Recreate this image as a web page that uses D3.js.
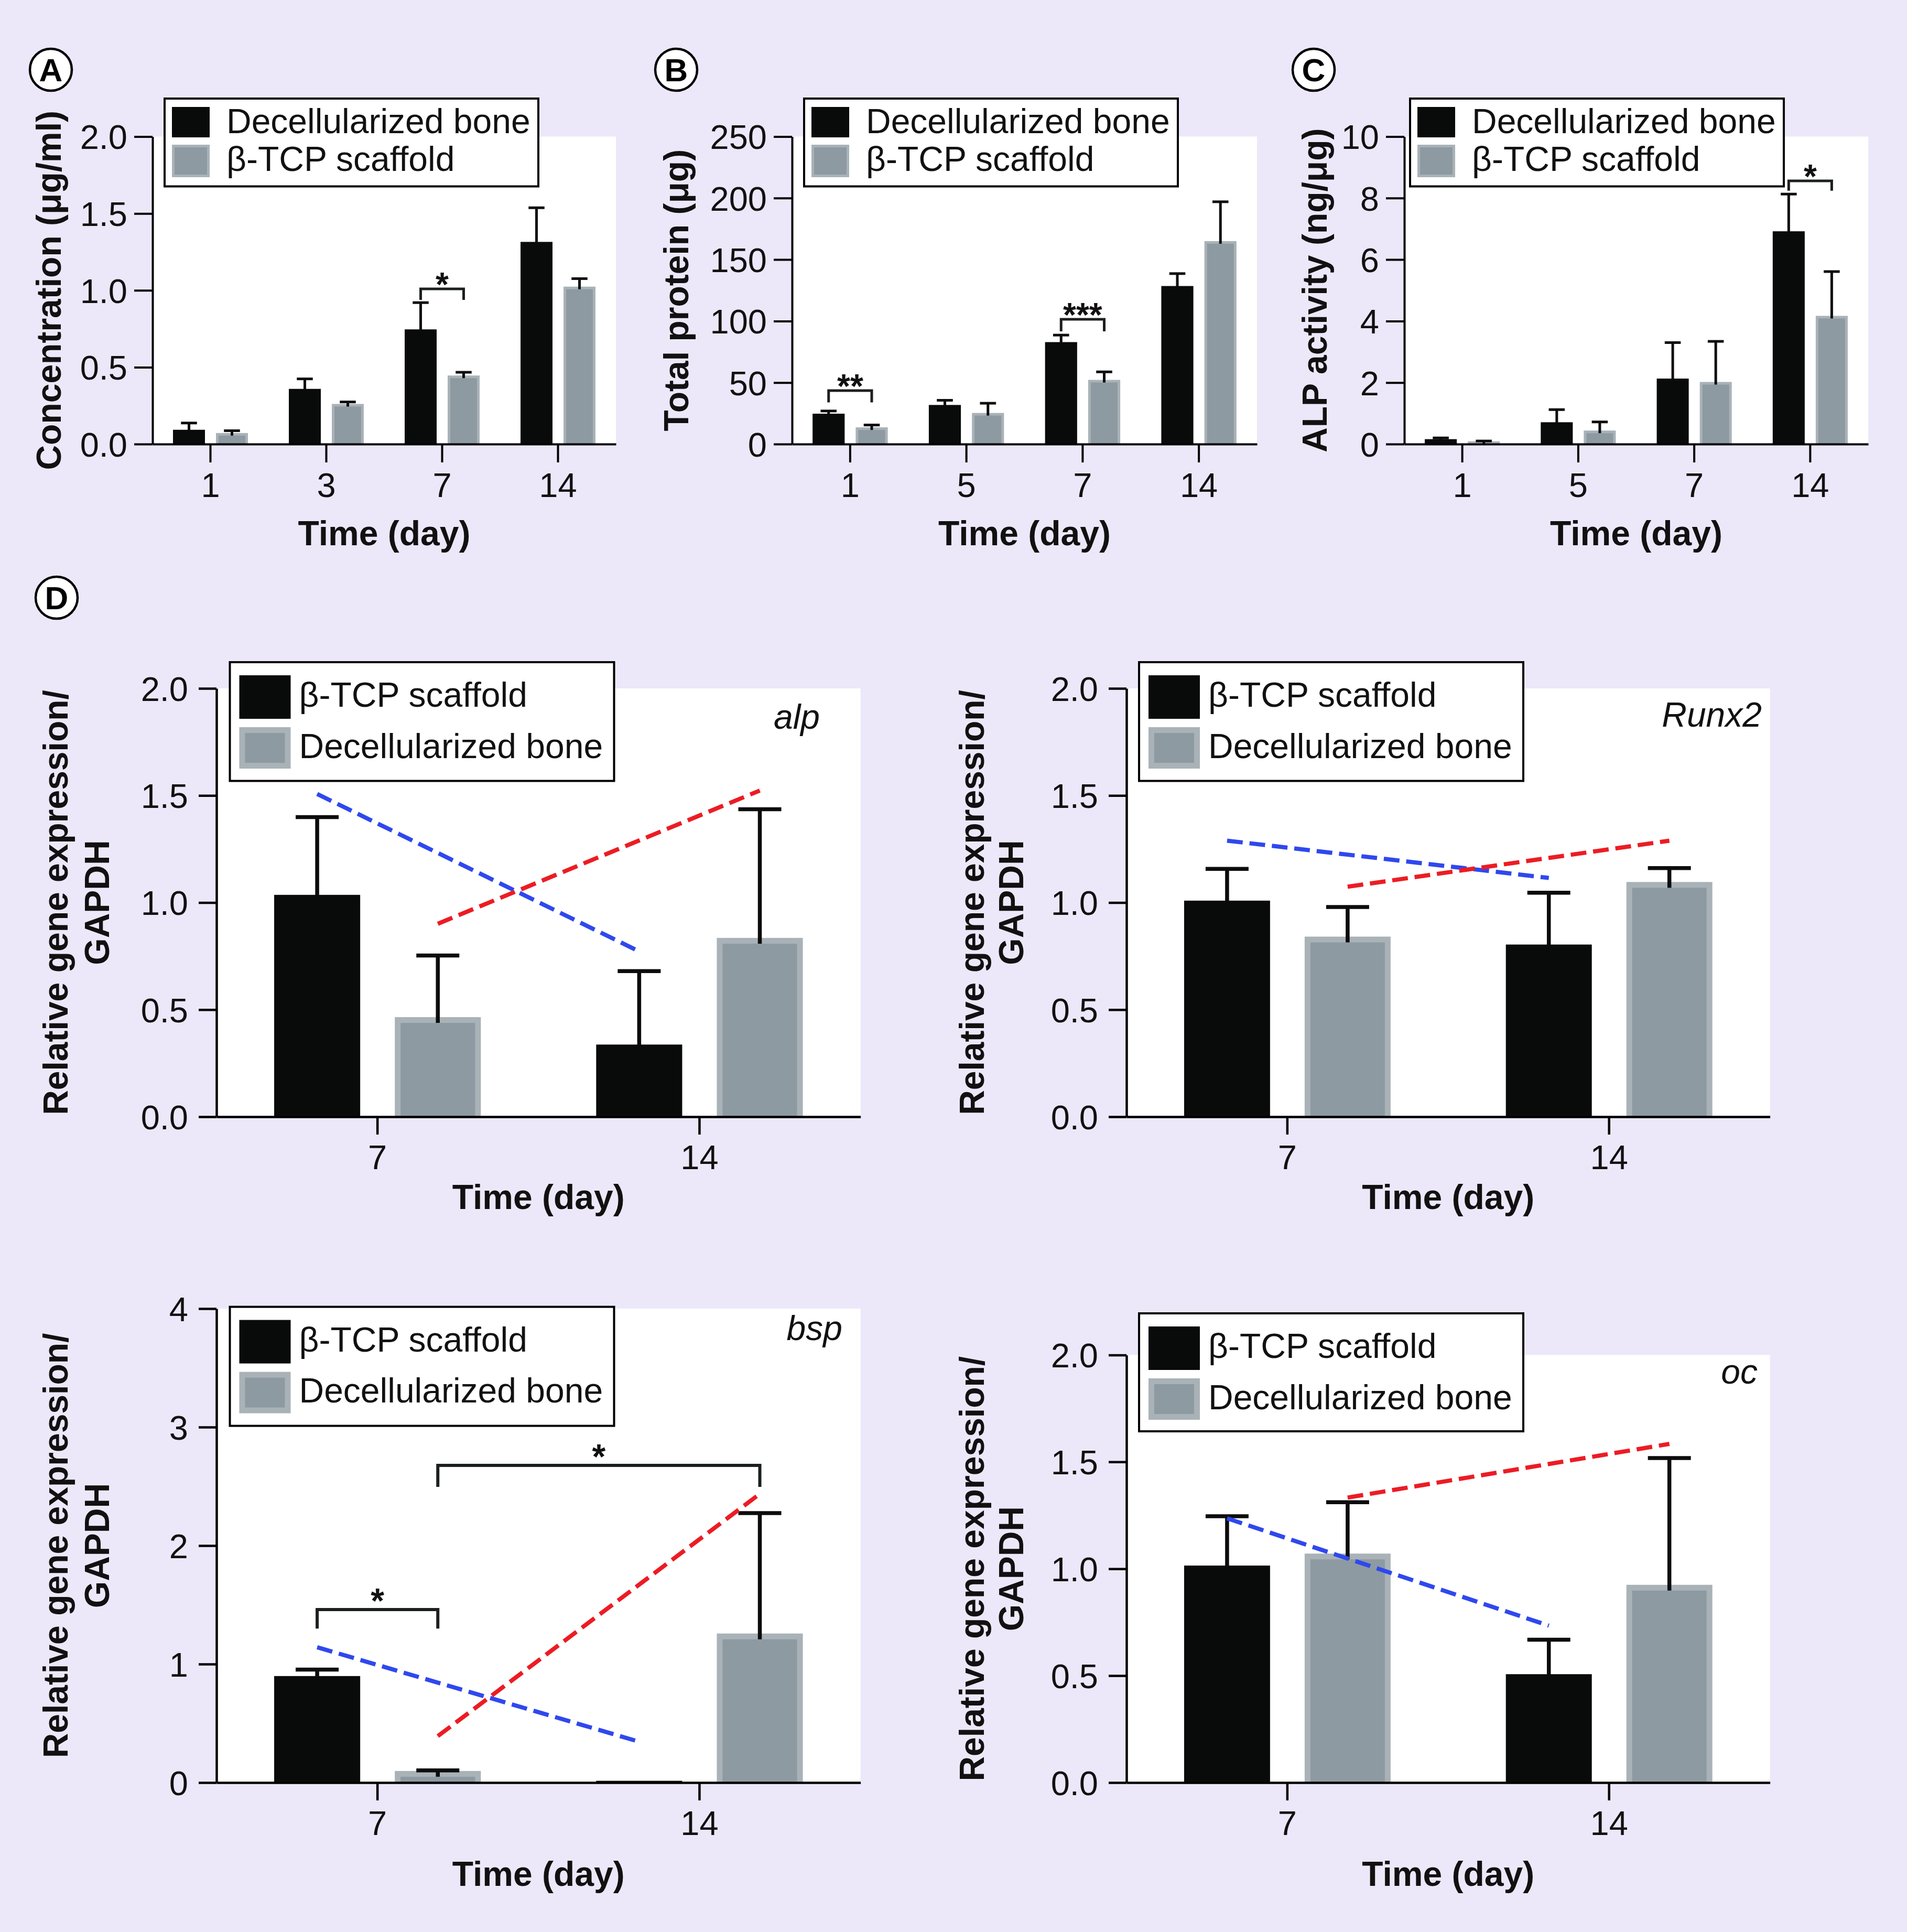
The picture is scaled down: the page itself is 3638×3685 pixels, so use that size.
<!DOCTYPE html>
<html>
<head>
<meta charset="utf-8">
<script src="https://cdn.jsdelivr.net/npm/d3@7"></script>
<style>
  html, body { margin: 0; padding: 0; background: #ECE8F9; }
  svg { display: block; }
</style>
</head>
<body>
<svg id="fig" width="3638" height="3685"></svg>
<script>
// ---------------- DATA ----------------
const daysA = ["1", "3", "7", "14"];
const daysBC = ["1", "5", "7", "14"];
const daysD = ["7", "14"];
const legendTop = ["Decellularized bone", "β-TCP scaffold"];
const legendD = ["β-TCP scaffold", "Decellularized bone"];

// (A) Concentration (µg/ml)
const concDecell = [0.093, 0.359, 0.746, 1.315];
const concDecellErr = [0.044, 0.065, 0.174, 0.222];
const concTCP = [0.072, 0.261, 0.446, 1.024];
const concTCPErr = [0.015, 0.013, 0.021, 0.052];
const ticksConc = [0, 0.5, 1.0, 1.5, 2.0];

// (B) Total protein (µg)
const protDecell = [24.7, 31.8, 82.9, 128.5];
const protDecellErr = [2.2, 3.8, 5.7, 10.1];
const protTCP = [13.6, 25.3, 52.2, 165.0];
const protTCPErr = [1.9, 7.9, 6.5, 32.0];
const ticksProt = [0, 50, 100, 150, 200, 250];

// (C) ALP activity (ng/µg)
const alpActDecell = [0.16, 0.71, 2.13, 6.92];
const alpActDecellErr = [0.04, 0.41, 1.17, 1.21];
const alpActTCP = [0.09, 0.44, 2.02, 4.17];
const alpActTCPErr = [0.01, 0.28, 1.32, 1.44];
const ticksAlpAct = [0, 2, 4, 6, 8, 10];

// (D) Relative gene expression / GAPDH  (series 0 = β-TCP scaffold, series 1 = decellularized bone)
const alpTCP = [1.036, 0.337];
const alpTCPErr = [0.363, 0.343];
const alpDecell = [0.465, 0.835];
const alpDecellErr = [0.288, 0.601];
const alpTrendTCP = [1.507, 0.772];
const alpTrendDecell = [0.901, 1.523];

const runxTCP = [1.009, 0.804];
const runxTCPErr = [0.148, 0.242];
const runxDecell = [0.841, 1.096];
const runxDecellErr = [0.138, 0.065];
const runxTrendTCP = [1.289, 1.115];
const runxTrendDecell = [1.074, 1.289];

const bspTCP = [0.899, 0.015];
const bspTCPErr = [0.055, 0];
const bspDecell = [0.098, 1.258];
const bspDecellErr = [0.005, 1.016];
const bspTrendTCP = [1.142, 0.345];
const bspTrendDecell = [0.392, 2.437];

const ocTCP = [1.015, 0.507];
const ocTCPErr = [0.231, 0.161];
const ocDecell = [1.071, 0.925];
const ocDecellErr = [0.240, 0.593];
const ocTrendTCP = [1.236, 0.734];
const ocTrendDecell = [1.333, 1.584];

const ticksGene = [0, 0.5, 1.0, 1.5, 2.0];
const ticksBsp = [0, 1, 2, 3, 4];

// significance brackets: [category, series] to [category, series], bracket level, leg end level, label
const bracketsA = [{ a: ["7", 0], b: ["7", 1], y: 1.009, leg: 0.938, t: "*" }];
const bracketsB = [
  { a: ["1", 0], b: ["1", 1], y: 43.5, leg: 33.9, t: "**" },
  { a: ["7", 0], b: ["7", 1], y: 101.4, leg: 91.6, t: "***" }
];
const bracketsC = [{ a: ["14", 0], b: ["14", 1], y: 8.56, leg: 8.24, t: "*" }];
const bracketsBsp = [
  { a: ["7", 0], b: ["7", 1], y: 1.46, leg: 1.30, t: "*" },
  { a: ["7", 1], b: ["14", 1], y: 2.677, leg: 2.496, t: "*" }
];

// ---------------- STYLE ----------------
const FONT = "'Liberation Sans', Arial, Helvetica, sans-serif";
const BLACK = "#090b0a", GRAY = "#8d9aa2", GRAY_EDGE = "#a9b2b7";
const BLUE = "#2f48ee", RED = "#ec1c24";

const topStyle = {
  pi: 0.256, po: 0.476, tickLen: 35, labelGap: 48, xLabelDy: 101, axisW: 4,
  errW: 5, edge: 5, brW: 5, starDy: 14, starSize: 64,
  legend: { sx: 14, sw: 72, s0y: 16, s0h: 58, s1y: 88, s1h: 62, tx: 118, t0: 65.5, t1: 137.5 }
};
const dStyle = {
  pi: 0.287, po: 0.478, tickLen: 34, labelGap: 54, xLabelDy: 100, axisW: 4.5,
  errW: 7.5, edge: 11, brW: 6, starDy: 6, starSize: 66,
  legend: { sx: 18, sw: 98, s0y: 25, s0h: 83, s1y: 124, s1h: 79, tx: 132, t0: 85, t1: 182.5 }
};

const panels = [
  { cats: daysA, names: legendTop, vals: [concDecell, concTCP], errs: [concDecellErr, concTCPErr],
    yMax: 2, yTicks: ticksConc, fmt: d3.format(".1f"), yTitle: ["Concentration (μg/ml)"], titleX: [116],
    st: topStyle, box: { left: 291, right: 1175, top: 260.5, bottom: 847 }, legendBox: [314, 188, 713, 167.5],
    xTitleDy: 193, brackets: bracketsA },
  { cats: daysBC, names: legendTop, vals: [protDecell, protTCP], errs: [protDecellErr, protTCPErr],
    yMax: 250, yTicks: ticksProt, fmt: d3.format("d"), yTitle: ["Total protein (μg)"], titleX: [1313],
    st: topStyle, box: { left: 1511, right: 2398, top: 260.5, bottom: 847 }, legendBox: [1534, 188, 713, 167.5],
    xTitleDy: 193, brackets: bracketsB },
  { cats: daysBC, names: legendTop, vals: [alpActDecell, alpActTCP], errs: [alpActDecellErr, alpActTCPErr],
    yMax: 10, yTicks: ticksAlpAct, fmt: d3.format("d"), yTitle: ["ALP activity (ng/μg)"], titleX: [2531],
    st: topStyle, box: { left: 2679, right: 3564, top: 260.5, bottom: 847 }, legendBox: [2690, 188, 713, 167.5],
    xTitleDy: 193, brackets: bracketsC },
  { cats: daysD, names: legendD, vals: [alpTCP, alpDecell], errs: [alpTCPErr, alpDecellErr],
    trends: [{ s: 0, v: alpTrendTCP }, { s: 1, v: alpTrendDecell }],
    yMax: 2, yTicks: ticksGene, fmt: d3.format(".1f"), yTitle: ["Relative gene expression/", "GAPDH"], titleX: [129, 208],
    st: dStyle, box: { left: 413, right: 1641.6, top: 1313, bottom: 2130 }, legendBox: [438.5, 1263, 733, 226.5],
    xTitleDy: 176, gene: { t: "alp", x: 1564, y: 1390 } },
  { cats: daysD, names: legendD, vals: [runxTCP, runxDecell], errs: [runxTCPErr, runxDecellErr],
    trends: [{ s: 0, v: runxTrendTCP }, { s: 1, v: runxTrendDecell }],
    yMax: 2, yTicks: ticksGene, fmt: d3.format(".1f"), yTitle: ["Relative gene expression/", "GAPDH"], titleX: [1877, 1952],
    st: dStyle, box: { left: 2149, right: 3376.6, top: 1313, bottom: 2130 }, legendBox: [2173, 1263, 733, 226.5],
    xTitleDy: 176, gene: { t: "Runx2", x: 3361, y: 1386 } },
  { cats: daysD, names: legendD, vals: [bspTCP, bspDecell], errs: [bspTCPErr, bspDecellErr],
    trends: [{ s: 0, v: bspTrendTCP }, { s: 1, v: bspTrendDecell }],
    yMax: 4, yTicks: ticksBsp, fmt: d3.format("d"), yTitle: ["Relative gene expression/", "GAPDH"], titleX: [129, 208],
    st: dStyle, box: { left: 413, right: 1641.6, top: 2496, bottom: 3400 }, legendBox: [438.5, 2492.6, 733, 227],
    xTitleDy: 196.5, gene: { t: "bsp", x: 1607, y: 2556 }, brackets: bracketsBsp },
  { cats: daysD, names: legendD, vals: [ocTCP, ocDecell], errs: [ocTCPErr, ocDecellErr],
    trends: [{ s: 0, v: ocTrendTCP }, { s: 1, v: ocTrendDecell }],
    yMax: 2, yTicks: ticksGene, fmt: d3.format(".1f"), yTitle: ["Relative gene expression/", "GAPDH"], titleX: [1877, 1952],
    st: dStyle, box: { left: 2149, right: 3376.6, top: 2584.4, bottom: 3400 }, legendBox: [2173, 2505, 733, 225],
    xTitleDy: 196.5, gene: { t: "oc", x: 3353, y: 2639 } }
];

const letters = [
  { t: "A", x: 97, y: 133 }, { t: "B", x: 1290, y: 133 }, { t: "C", x: 2506, y: 133 }, { t: "D", x: 108, y: 1140 }
];

// ---------------- DRAW ----------------
const svg = d3.select("#fig").attr("font-family", FONT);
svg.append("rect").attr("width", 3638).attr("height", 3685).attr("fill", "#ECE8F9");

function drawPanel(p) {
  const st = p.st;
  const { left, right, top, bottom } = p.box;
  const g = svg.append("g");
  const x = d3.scaleBand().domain(p.cats).range([left, right]);
  const xs = d3.scaleBand().domain(d3.range(p.vals.length)).range([0, x.bandwidth()])
    .paddingInner(st.pi).paddingOuter(st.po);
  const y = d3.scaleLinear().domain([0, p.yMax]).range([bottom, top]);
  const bw = xs.bandwidth();
  const cx = (c, s) => x(c) + xs(s) + bw / 2;

  // plot area
  g.append("rect").attr("x", left).attr("y", top).attr("width", right - left)
    .attr("height", bottom - top).attr("fill", "#fff");

  const rows = p.cats.flatMap((c, i) => p.vals.map((vs, s) => ({ c, s, v: vs[i], e: p.errs[s][i] })));

  // bars
  const bars = g.append("g").selectAll("g").data(rows).join("g");
  bars.append("rect")
    .attr("x", d => x(d.c) + xs(d.s)).attr("y", d => y(d.v))
    .attr("width", bw).attr("height", d => bottom - y(d.v))
    .attr("fill", d => d.s === 0 ? BLACK : GRAY_EDGE);
  bars.filter(d => d.s === 1).append("rect")
    .attr("x", d => x(d.c) + xs(d.s) + st.edge)
    .attr("y", d => Math.min(bottom, y(d.v) + st.edge))
    .attr("width", bw - 2 * st.edge)
    .attr("height", d => Math.max(0, bottom - y(d.v) - st.edge))
    .attr("fill", GRAY);

  // error bars (upper only)
  const eb = g.append("g").attr("stroke", "#0c0c0c").attr("stroke-width", st.errW)
    .selectAll("g").data(rows.filter(d => d.e > 0)).join("g");
  eb.append("line")
    .attr("x1", d => cx(d.c, d.s)).attr("x2", d => cx(d.c, d.s))
    .attr("y1", d => Math.min(bottom, y(d.v) + (d.s === 1 ? st.edge : 2)))
    .attr("y2", d => y(d.v + d.e));
  eb.append("line")
    .attr("x1", d => cx(d.c, d.s) - bw / 4).attr("x2", d => cx(d.c, d.s) + bw / 4)
    .attr("y1", d => y(d.v + d.e)).attr("y2", d => y(d.v + d.e));

  // dashed trend lines
  if (p.trends) {
    g.append("g").selectAll("line").data(p.trends).join("line")
      .attr("x1", d => cx(p.cats[0], d.s)).attr("y1", d => y(d.v[0]))
      .attr("x2", d => cx(p.cats[1], d.s)).attr("y2", d => y(d.v[1]))
      .attr("stroke", d => d.s === 0 ? BLUE : RED)
      .attr("stroke-width", 8).attr("stroke-dasharray", "30,13");
  }

  // significance brackets
  if (p.brackets) {
    const bg = g.append("g").selectAll("g").data(p.brackets).join("g");
    bg.append("path")
      .attr("d", d => `M${cx(d.a[0], d.a[1])},${y(d.leg)}V${y(d.y)}H${cx(d.b[0], d.b[1])}V${y(d.leg)}`)
      .attr("fill", "none").attr("stroke", "#1c1f20").attr("stroke-width", st.brW);
    bg.append("text")
      .attr("x", d => (cx(d.a[0], d.a[1]) + cx(d.b[0], d.b[1])) / 2)
      .attr("y", d => y(d.y) + st.starDy)
      .attr("text-anchor", "middle").attr("font-size", st.starSize).attr("font-weight", "bold")
      .attr("fill", "#111").text(d => d.t);
  }

  // axes
  const ya = g.append("g").attr("transform", `translate(${left},0)`)
    .call(d3.axisLeft(y).tickValues(p.yTicks).tickFormat(p.fmt).tickSize(st.tickLen).tickSizeOuter(0));
  const xa = g.append("g").attr("transform", `translate(0,${bottom})`)
    .call(d3.axisBottom(x).tickSize(st.tickLen).tickSizeOuter(0));
  [ya, xa].forEach(a => {
    a.attr("font-family", FONT).attr("font-size", 65);
    a.select(".domain").attr("stroke", "#000").attr("stroke-width", st.axisW);
    a.selectAll(".tick line").attr("stroke", "#000").attr("stroke-width", st.axisW);
    a.selectAll(".tick text").attr("fill", "#111");
  });
  ya.selectAll(".tick text").attr("x", -st.labelGap).attr("dy", "0.36em");
  xa.selectAll(".tick text").attr("y", st.xLabelDy).attr("dy", null);

  // axis titles
  g.append("text").attr("x", (left + right) / 2).attr("y", bottom + p.xTitleDy)
    .attr("text-anchor", "middle").attr("font-size", 66).attr("font-weight", "bold")
    .attr("fill", "#111").text("Time (day)");
  p.yTitle.forEach((t, i) => {
    g.append("text")
      .attr("transform", `translate(${p.titleX[i]},${(top + bottom) / 2}) rotate(-90)`)
      .attr("text-anchor", "middle").attr("font-size", 66).attr("font-weight", "bold")
      .attr("fill", "#111").text(t);
  });

  // gene label
  if (p.gene) {
    g.append("text").attr("x", p.gene.x).attr("y", p.gene.y).attr("text-anchor", "end")
      .attr("font-size", 66).attr("font-style", "italic").attr("fill", "#111").text(p.gene.t);
  }

  // legend
  const [lx, ly, lw, lh] = p.legendBox;
  const L = st.legend;
  const lg = g.append("g");
  lg.append("rect").attr("x", lx).attr("y", ly).attr("width", lw).attr("height", lh)
    .attr("fill", "#fff").attr("stroke", "#000").attr("stroke-width", 4);
  const sy = [L.s0y, L.s1y], sh = [L.s0h, L.s1h], ty = [L.t0, L.t1];
  const items = lg.selectAll("g.item").data(p.names).join("g").attr("class", "item");
  items.append("rect")
    .attr("x", lx + L.sx).attr("y", (d, i) => ly + sy[i]).attr("width", L.sw).attr("height", (d, i) => sh[i])
    .attr("fill", (d, i) => i === 0 ? BLACK : GRAY_EDGE);
  items.filter((d, i) => i === 1).append("rect")
    .attr("x", lx + L.sx + st.edge).attr("y", ly + L.s1y + st.edge)
    .attr("width", L.sw - 2 * st.edge).attr("height", L.s1h - 2 * st.edge).attr("fill", GRAY);
  items.append("text").attr("x", lx + L.tx).attr("y", (d, i) => ly + ty[i])
    .attr("font-size", 66).attr("fill", "#111").text(d => d);
}

panels.forEach(drawPanel);

// panel letters
const lt = svg.append("g").selectAll("g").data(letters).join("g");
lt.append("circle").attr("cx", d => d.x).attr("cy", d => d.y).attr("r", 40)
  .attr("fill", "#fff").attr("stroke", "#000").attr("stroke-width", 4.5);
lt.append("text").attr("x", d => d.x).attr("y", d => d.y + 22).attr("text-anchor", "middle")
  .attr("font-size", 62).attr("font-weight", "bold").attr("fill", "#000").text(d => d.t);
</script>
</body>
</html>
